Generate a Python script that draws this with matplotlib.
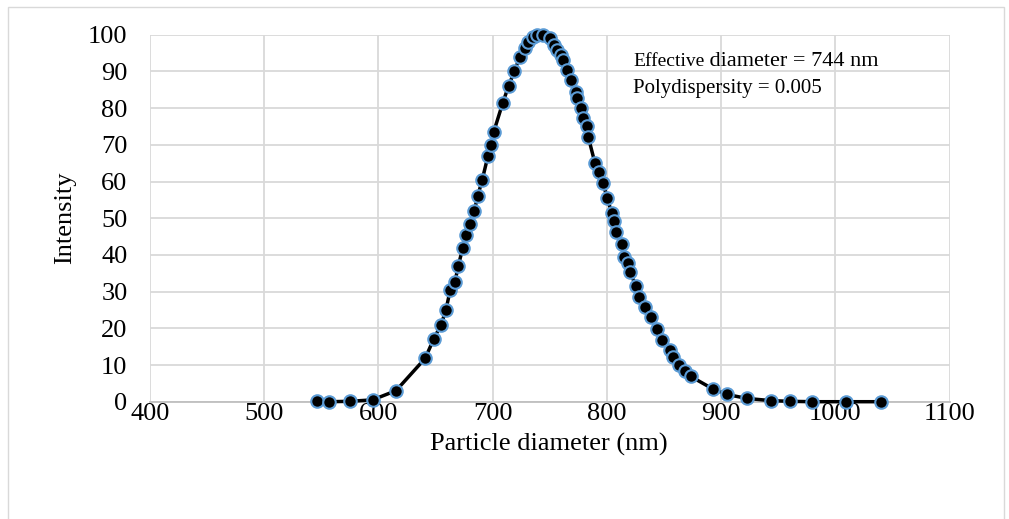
import matplotlib
matplotlib.use("Agg")
import matplotlib.pyplot as plt
from matplotlib.patches import Rectangle

diameter_nm = [546, 557, 575, 595, 615.5, 641, 648.7, 655, 659.2, 663, 667, 670, 674,
               677, 680, 684, 687, 691, 696, 699, 701, 709, 714, 719, 724, 728, 731,
               735, 739, 744, 750, 753.7, 756.1, 759.6, 761.9, 765.4, 768.3, 773.0,
               773.6, 777.1, 779.4, 782.3, 783.7, 789.6, 793.3, 796.5, 800.5, 804.2,
               806.2, 808.0, 813.0, 815.0, 818.7, 820.2, 825.5, 828.3, 833.3, 838.3,
               843.6, 847.9, 855.2, 858.1, 863.3, 868.3, 873.3, 892.6, 904.8, 922.3,
               943.3, 960.2, 979.7, 1009.2, 1039.6]
intensity = [0.1, 0.0, 0.1, 0.5, 3.0, 11.8, 17.2, 21.0, 25.0, 30.5, 32.5, 37.0, 42.0,
             45.5, 48.5, 52.0, 56.0, 60.5, 67.0, 70.0, 73.5, 81.5, 86.0, 90.0, 94.0,
             96.5, 98.0, 99.5, 100.0, 100.0, 99.0, 97.2, 95.8, 94.4, 93.1, 90.4, 87.7,
             84.4, 82.7, 80.0, 77.3, 75.0, 72.2, 65.0, 62.7, 59.5, 55.5, 51.3, 49.3,
             46.3, 43.1, 39.5, 37.7, 35.4, 31.5, 28.6, 25.9, 23.0, 19.7, 16.8, 14.2,
             12.3, 10.0, 8.5, 6.9, 3.5, 2.0, 0.9, 0.3, 0.1, 0.0, 0.0, 0.0]

x_ticks = [400, 500, 600, 700, 800, 900, 1000, 1100]
y_ticks = [0, 10, 20, 30, 40, 50, 60, 70, 80, 90, 100]
x_label = "Particle diameter (nm)"
y_label = "Intensity"
note_word = "Effective"
note_rest = " diameter = 744 nm"
note_line2 = "Polydispersity = 0.005"

plt.rcParams['font.family'] = ['Liberation Serif', 'DejaVu Serif']

W, H = 1009, 519
fig = plt.figure(figsize=(W / 100, H / 100), dpi=100)
fig.patch.set_facecolor("white")

# outer chart frame
fig.patches.append(Rectangle((8 / W, -0.05), (1004 - 8) / W, (H - 7) / H + 0.05,
                             transform=fig.transFigure, fill=False,
                             edgecolor="#D9D9D9", linewidth=1.0))

ax = fig.add_axes([149.7 / W, 1 - 401.7 / H, 800 / W, (401.7 - 34.7) / H])
ax.set_xlim(400, 1100)
ax.set_ylim(0, 100)
ax.set_xticks(x_ticks)
ax.set_yticks(y_ticks)
ax.grid(True, color="#D9D9D9", linewidth=1.3)
ax.set_axisbelow(True)
for s in ["top", "right", "left"]:
    ax.spines[s].set_visible(False)
ax.spines["bottom"].set_color("#BFBFBF")
ax.spines["bottom"].set_linewidth(1.3)
ax.tick_params(axis="x", length=0, labelsize=19, colors="black", pad=1)
ax.tick_params(axis="y", length=0, labelsize=19, colors="black", pad=16)

ax.plot(diameter_nm, intensity, color="black", linewidth=2.5,
        marker="o", markersize=9, markerfacecolor="black",
        markeredgecolor="#5B9BD5", markeredgewidth=1.5, zorder=3, clip_on=False)

fig.text(549 / W, 1 - 444 / H, x_label, fontsize=19, ha="center", va="center")
fig.text(65 / W, 1 - 218 / H, y_label, fontsize=19, ha="center", va="center",
         rotation=90)

t1 = fig.text(633 / W, 1 - 62 / H, note_word, fontsize=14, ha="left", va="center")
fig.canvas.draw()
r = fig.canvas.get_renderer()
bb = t1.get_window_extent(renderer=r)
fig.text(bb.x1 / W, 1 - 62 / H, note_rest, fontsize=16, ha="left", va="center")
fig.text(633 / W, 1 - 88 / H, note_line2, fontsize=15, ha="left", va="center")

fig.savefig("out.png", dpi=100)
